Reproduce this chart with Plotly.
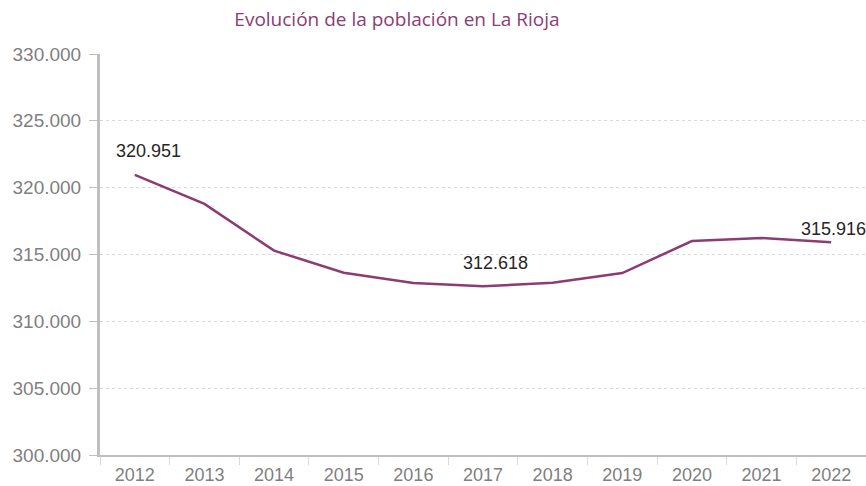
import plotly.graph_objects as go

# Data
years = ['2012', '2013', '2014', '2015', '2016', '2017', '2018', '2019', '2020', '2021', '2022']
population = [320951, 318780, 315290, 313640, 312870, 312618, 312880, 313610, 316010, 316230, 315916]
label_years = ['2012', '2017', '2022']
label_text = ['320.951', '312.618', '315.916']
label_xshift = [14, 12, 2]
label_yshift = [24, 23, 13]

y_ticks = [300000, 305000, 310000, 315000, 320000, 325000, 330000]

LINE_COLOR = '#8c3b74'
AXIS_GREY = '#bfbfbf'
TEXT_GREY = '#7f7f7f'
FONT = 'Liberation Sans, Arial'

fig = go.Figure()

fig.add_trace(
    go.Scatter(
        x=years,
        y=population,
        mode='lines',
        line=dict(color=LINE_COLOR, width=2.5),
        hoverinfo='skip',
        showlegend=False
    )
)

# Data labels on selected points (category index for x)
for yr, txt, dx, dy in zip(label_years, label_text, label_xshift, label_yshift):
    i = years.index(yr)
    fig.add_annotation(
        x=i,
        y=population[i],
        text=txt,
        showarrow=False,
        yanchor='middle',
        xanchor='center',
        yshift=dy,
        xshift=dx,
        font=dict(family=FONT, size=18, color='#262626')
    )

fig.update_layout(
    width=866,
    height=486,
    margin=dict(l=100, r=0, t=54, b=31),
    paper_bgcolor='white',
    plot_bgcolor='white',
    separators=',.',
    title=dict(
        text='Evolución de la población en La Rioja',
        x=397 / 866,
        xanchor='center',
        y=1 - 19 / 486,
        yanchor='middle',
        font=dict(family='Open Sans, Noto Sans', size=19, color='#8c3b74')
    )
)

fig.update_yaxes(
    range=[300000, 330000],
    tickvals=y_ticks,
    tickformat=',.0f',
    automargin=False,
    showgrid=True,
    gridcolor='#d9d9d9',
    griddash='dot',
    gridwidth=1,
    zeroline=False,
    showline=True,
    linecolor=AXIS_GREY,
    linewidth=3,
    ticks='outside',
    ticklen=8,
    tickcolor=AXIS_GREY,
    ticklabelstandoff=4,
    tickfont=dict(family=FONT, size=19, color=TEXT_GREY)
)

fig.update_xaxes(
    type='category',
    range=[-0.5, 10.5],
    automargin=False,
    showgrid=False,
    showline=True,
    linecolor=AXIS_GREY,
    linewidth=1.5,
    ticks='outside',
    tickson='boundaries',
    ticklen=8,
    tickcolor='#d9d9d9',
    ticklabelstandoff=3,
    tickfont=dict(family=FONT, size=18, color=TEXT_GREY)
)

# drop the browser's default body margin so the figure fills the window
fig.write_html(
    'out.html',
    config={'displayModeBar': False},
    post_script="document.body.style.margin='0';"
)
